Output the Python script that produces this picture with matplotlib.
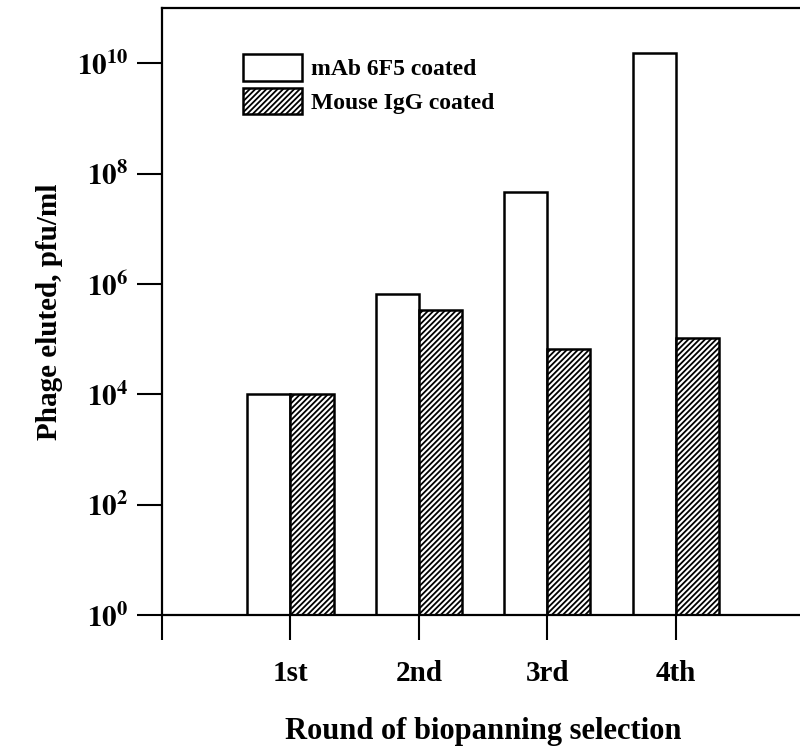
import matplotlib
matplotlib.use("Agg")
import matplotlib.pyplot as plt
import numpy as np

plt.rcParams['font.family'] = ['Liberation Serif', 'DejaVu Serif']
plt.rcParams['font.weight'] = 'bold'
plt.rcParams['axes.labelweight'] = 'bold'
plt.rcParams['mathtext.fontset'] = 'stix'
plt.rcParams['hatch.linewidth'] = 1.3

# data
rounds = ['1st', '2nd', '3rd', '4th']
mab_6f5 = [1.0e4, 6.6e5, 4.6e7, 1.55e10]
mouse_igg = [1.0e4, 3.4e5, 6.6e4, 1.05e5]
y_exponents = [0, 2, 4, 6, 8, 10]

fig = plt.figure(figsize=(8, 7.51), dpi=100)
ax = fig.add_axes([0.2025, 0.181, 0.803, 0.808])

x = np.arange(1, len(rounds) + 1)
w = 0.335
ax.bar(x - w / 2, mab_6f5, width=w, color='white', edgecolor='black',
       linewidth=1.8, label='mAb 6F5 coated')
ax.bar(x + w / 2, mouse_igg, width=w, color='white', edgecolor='black',
       linewidth=1.8, hatch='//////', label='Mouse IgG coated')

ax.set_yscale('log')
ax.set_ylim(1, 1e11)
ax.set_xlim(0, 5)
ax.set_yticks([10.0 ** e for e in y_exponents])
ax.set_yticklabels([r'$\mathbf{10^{%d}}$' % e for e in y_exponents])
ax.yaxis.set_minor_locator(matplotlib.ticker.NullLocator())
ax.set_xticks(range(0, len(rounds) + 1))
ax.set_xticklabels([''] + rounds)

for s in ax.spines.values():
    s.set_linewidth(1.6)
ax.tick_params(axis='both', direction='out', length=18, width=1.5,
               labelsize=21)
ax.tick_params(axis='x', pad=14)
ax.tick_params(axis='y', pad=6)

ax.set_ylabel('Phage eluted, pfu/ml', fontsize=21, labelpad=10)
ax.set_xlabel('Round of biopanning selection', fontsize=22, labelpad=22)

ax.legend(loc='upper left', bbox_to_anchor=(0.112, 0.94), frameon=False,
          fontsize=17, handlelength=2.5, handleheight=1.35,
          labelspacing=0.3, handletextpad=0.35, borderaxespad=0)

fig.savefig('out.png', dpi=100)
